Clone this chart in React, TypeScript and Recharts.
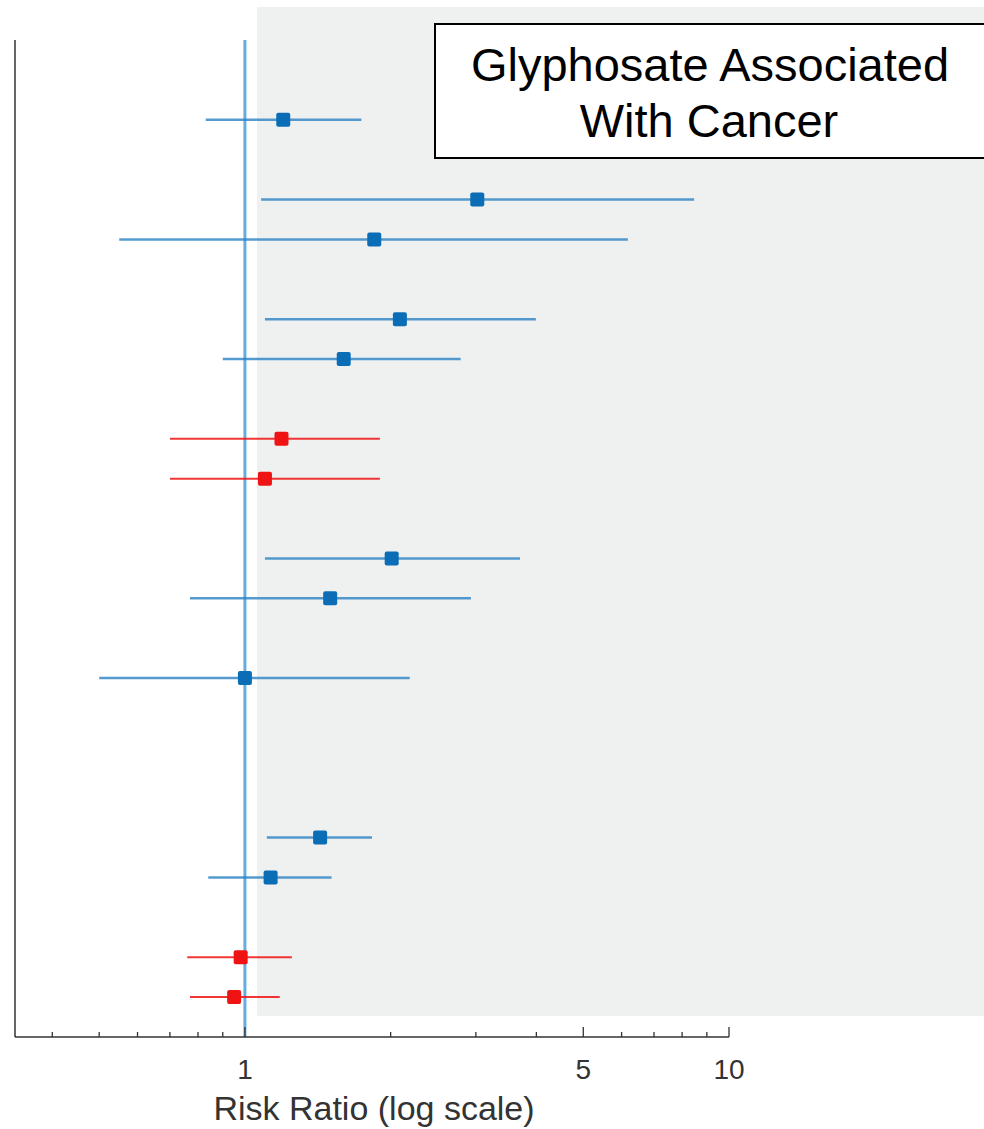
import React from 'react';
import {
  ComposedChart,
  Scatter,
  ErrorBar,
  XAxis,
  YAxis,
  ReferenceLine,
} from 'recharts';

// one entry per study row (row = vertical slot, top to bottom)
const rowIndex = [0, 2, 3, 5, 6, 8, 9, 11, 12, 14, 18, 19, 21, 22];
const riskRatio = [1.2, 3.02, 1.85, 2.09, 1.6, 1.19, 1.1, 2.01, 1.5, 1.0, 1.43, 1.13, 0.98, 0.95];
const ciLower = [0.83, 1.08, 0.55, 1.1, 0.9, 0.7, 0.7, 1.1, 0.77, 0.5, 1.11, 0.84, 0.76, 0.77];
const ciUpper = [1.74, 8.47, 6.18, 3.99, 2.79, 1.9, 1.9, 3.7, 2.93, 2.19, 1.83, 1.51, 1.25, 1.18];
const studyGroup = [
  'assoc', 'assoc', 'assoc', 'assoc', 'assoc',
  'none', 'none',
  'assoc', 'assoc', 'assoc', 'assoc', 'assoc',
  'none', 'none',
];

const xTicks = [0.4, 0.5, 0.6, 0.7, 0.8, 0.9, 1, 2, 3, 4, 5, 6, 7, 8, 9, 10];
const labelledTicks = [1, 5, 10];
const xDomain = [0.335, 10];
const yDomain = [-2, 23];

const FONT = '"Liberation Sans", Arial, Helvetica, sans-serif';
const BLUE = '#0b6db6';
const BLUE_LINE = '#2a82c4';
const RED = '#f01313';

const rows = rowIndex.map((row, i) => ({
  row,
  rr: riskRatio[i],
  err: [riskRatio[i] - ciLower[i], ciUpper[i] - riskRatio[i]],
  group: studyGroup[i],
}));
const assocRows = rows.filter((r) => r.group === 'assoc');
const noneRows = rows.filter((r) => r.group === 'none');

const AxisTick = (props: any) => {
  const { x, y, payload } = props;
  const major = labelledTicks.includes(payload.value);
  return (
    <g>
      <line x1={x} x2={x} y1={y} y2={y - (major ? 10 : 5)} stroke="#333" strokeWidth={1.3} />
      {major && (
        <text x={x} y={y + 42} textAnchor="middle" fill="#333" fontSize={28} fontFamily={FONT}>
          {payload.value}
        </text>
      )}
    </g>
  );
};

const square = (color: string) => (p: any) => (
  <rect x={p.cx - 7} y={p.cy - 7} width={14} height={14} rx={2} fill={color} />
);

export default function App() {
  return (
    <div style={{ position: 'absolute', left: 0, top: 0, width: 984, height: 1129, overflow: 'hidden', background: '#fff' }}>
      <svg width={984} height={1129} style={{ position: 'absolute', left: 0, top: 0 }}>
        <rect x={257} y={7} width={727} height={1009} fill="#eff0f0" />
      </svg>
      <div style={{ position: 'absolute', left: 0, top: 0 }}>
        <ComposedChart width={984} height={1129} margin={{ top: 40, right: 255, bottom: 0, left: 15 }}>
          <XAxis
            type="number"
            dataKey="rr"
            scale="log"
            domain={xDomain}
            allowDataOverflow
            ticks={xTicks}
            interval={0}
            height={92}
            tickSize={0}
            tickMargin={0}
            tickLine={false}
            tick={<AxisTick />}
            axisLine={{ stroke: '#333', strokeWidth: 1.5 }}
            label={{
              value: 'Risk Ratio (log scale)',
              position: 'insideBottom',
              offset: 9,
              dx: 2,
              fill: '#333',
              fontSize: 34,
              fontFamily: FONT,
            }}
          />
          <YAxis type="number" dataKey="row" domain={yDomain} reversed allowDataOverflow hide />
          <ReferenceLine x={xDomain[0]} stroke="#333" strokeWidth={1.5} />
          <ReferenceLine x={1} stroke="#4a9edc" strokeWidth={3} strokeOpacity={0.85} />
          <Scatter data={assocRows} shape={square(BLUE)} isAnimationActive={false}>
            <ErrorBar dataKey="err" direction="x" width={0} stroke={BLUE_LINE} strokeWidth={2.5} strokeOpacity={0.8} />
          </Scatter>
          <Scatter data={noneRows} shape={square(RED)} isAnimationActive={false}>
            <ErrorBar dataKey="err" direction="x" width={0} stroke={RED} strokeWidth={2} strokeOpacity={0.85} />
          </Scatter>
        </ComposedChart>
      </div>
      <svg width={984} height={1129} style={{ position: 'absolute', left: 0, top: 0, pointerEvents: 'none' }}>
        <rect x={435} y={24} width={600} height={134} fill="#fff" stroke="#000" strokeWidth={2} />
        <text x={710} y={81} textAnchor="middle" fontSize={47} fontFamily={FONT} fill="#000">
          Glyphosate Associated
        </text>
        <text x={709} y={137} textAnchor="middle" fontSize={47} fontFamily={FONT} fill="#000">
          With Cancer
        </text>
      </svg>
    </div>
  );
}
